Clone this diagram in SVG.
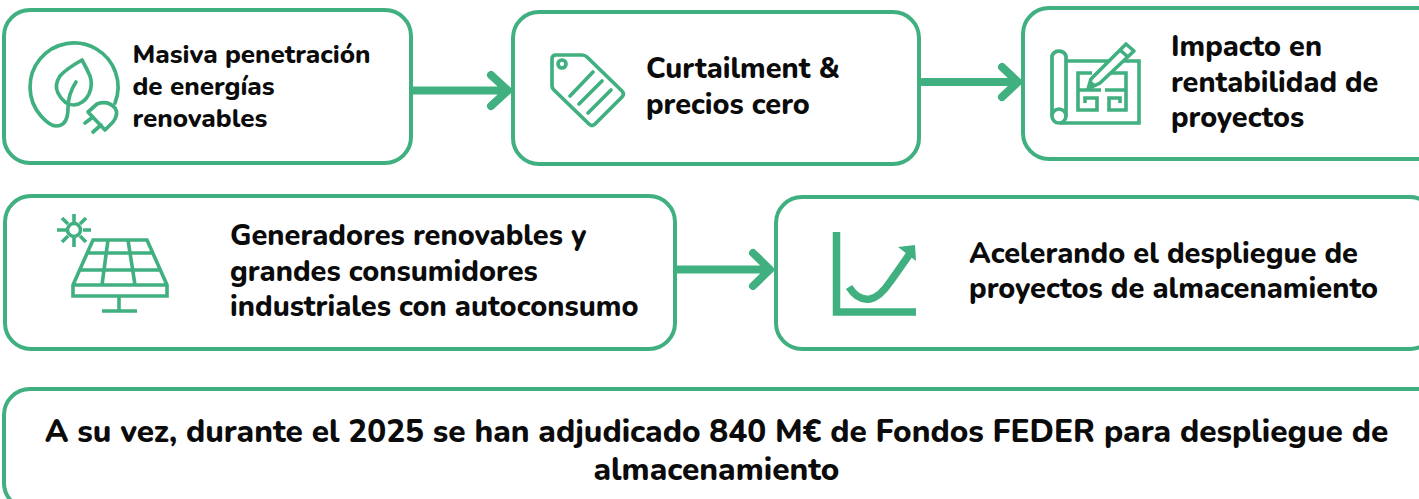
<svg xmlns="http://www.w3.org/2000/svg" width="1419" height="499" viewBox="0 0 1419 499">
<style>
.box{fill:#fff;stroke:#41b080;stroke-width:4}
.ic{fill:none;stroke:#41b080;stroke-width:3.7;stroke-linecap:round;stroke-linejoin:round}
.icb{fill:none;stroke:#41b080;stroke-width:3.600;stroke-linejoin:miter}
.c{fill:none;stroke:#41b080;stroke-width:8;stroke-linecap:round;stroke-linejoin:round}
text{font-family:"Nunito","Noto Sans","Liberation Sans",sans-serif;font-weight:800;fill:#0b0b0b}
.t1{font-size:26px}.t2{font-size:28.850px}.t3{font-size:28.800px}.t4{font-size:28.950px}.t5{font-size:31.550px}
</style>
<rect width="1419" height="499" fill="#fff"/>
<g id="connectors">
<path class="c" d="M412 90.500H505M491 75L508 90.500L491 106"/>
<path class="c" d="M923 82H1016M1002 67L1018 82L1002 97"/>
<path class="c" d="M676 269.500H767M753 253L770 269.500L753 286"/>
</g>
<g id="node-renovables">
<rect class="box" x="4" y="10" width="407" height="153" rx="26"/>
<path class="ic" d="M115 103A44 44 0 1 0 41 116Q50 126 56 126Q68 126 68 108Q68 94 76 82"/>
<path class="ic" d="M82 60Q66 69 60 76Q54 85 58 93Q64 105 74 105Q84 104 89 94Q93 85 90 76Q87 69 82 60Z"/>
<path class="ic" d="M88 112L105 130L113 122Q119 114 115 108Q108 100 97 104ZM85 123L93 117M93 132L101 125"/>
<text class="t1" x="132.500" y="63">Masiva penetración</text>
<text class="t1" x="132.500" y="95">de energías</text>
<text class="t1" x="132.500" y="127">renovables</text>
</g>
<g id="node-curtailment">
<rect class="box" x="513" y="12" width="406" height="152" rx="26"/>
<path class="ic" d="M556 55H582Q585 55 587 57L622 91Q625 94 622 97L595 124Q592 127 589 124L554 90Q552 88 552 86V59Q552 55 556 55Z"/>
<circle class="ic" cx="562" cy="64" r="4"/>
<path class="ic" d="M570 96L593 72M579 104L602 81M588 113L611 90"/>
<text class="t2" x="646" y="78">Curtailment &amp;</text>
<text class="t2" x="646" y="114">precios cero</text>
</g>
<g id="node-rentabilidad">
<rect class="box" x="1023" y="8" width="420" height="151" rx="26"/>
<path class="icb" d="M1067 61H1139V123H1060"/>
<path class="ic" d="M1052 115V56A7.500 7.500 0 0 1 1066 56V115"/>
<circle class="ic" cx="1059" cy="116" r="7"/>
<path class="icb" d="M1092 73H1078V110H1097V98H1085V103M1078 90H1101M1108 73H1126V110H1109V98H1120V103M1105 90H1126"/>
<path d="M1088 89L1091 79L1126 44L1134 51L1100 83Z" fill="#fff" stroke="#41b080" stroke-width="3.600" stroke-linejoin="round"/>
<path d="M1088 89L1091 81L1097 85Z" fill="#41b080"/>
<path d="M1120 50L1128 57" class="icb"/>
<text class="t3" x="1171" y="56">Impacto en</text>
<text class="t3" x="1171" y="92">rentabilidad de</text>
<text class="t3" x="1171" y="127">proyectos</text>
</g>
<g id="node-generadores">
<rect class="box" x="5" y="196" width="670" height="153" rx="26"/>
<circle class="icb" cx="74" cy="230" r="6.500"/>
<path class="icb" d="M74 214V222M74 238V247M57 230H66M83 230H91M62 218L68 224M80 236L86 242M86 218L80 224M68 236L62 242"/>
<path class="icb" d="M73 285L93 240H147L167 285V296H73ZM73 285H167M86 253H154M80 270H160M108 240L102 285M128 240L135 285"/>
<path class="icb" d="M119 296V311M102 311H137"/>
<text class="t4" x="230" y="245">Generadores renovables y</text>
<text class="t4" x="230" y="281">grandes consumidores</text>
<text class="t4" x="230" y="316">industriales con autoconsumo</text>
</g>
<g id="node-acelerando">
<rect class="box" x="776" y="197" width="660" height="152" rx="26"/>
<path d="M836.500 232V312H916" fill="none" stroke="#41b080" stroke-width="7.500"/>
<path d="M849 287Q858 301 870 299Q880 297 890 282L909 255" fill="none" stroke="#41b080" stroke-width="7.500"/>
<path d="M898 247L915 245L916 261Z" fill="#41b080"/>
<text class="t4" x="969" y="263">Acelerando el despliegue de</text>
<text class="t4" x="969" y="298">proyectos de almacenamiento</text>
</g>
<g id="node-feder">
<rect class="box" x="4" y="389" width="1440" height="120" rx="26"/>
<text class="t5" x="716.500" y="442" text-anchor="middle">A su vez, durante el 2025 se han adjudicado 840 M€ de Fondos FEDER para despliegue de</text>
<text class="t5" x="716.500" y="480" text-anchor="middle">almacenamiento</text>
</g>
</svg>
